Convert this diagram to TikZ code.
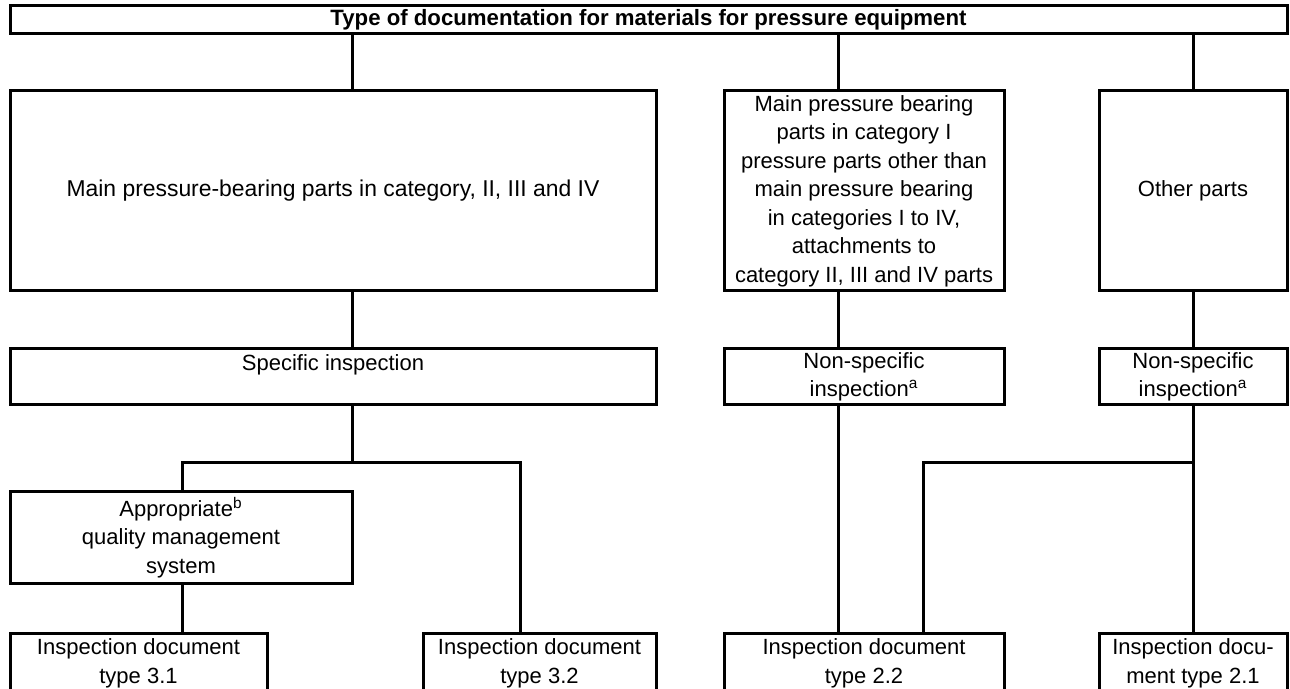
\documentclass[tikz,border=0pt]{standalone}
\usepackage{fontspec}
\setmainfont{Liberation Sans}
\begin{document}
\begin{tikzpicture}[x=0.5pt,y=-0.5pt,
	box/.style={draw,line width=1.5pt,outer sep=0pt,anchor=north west,align=center,inner xsep=2pt,inner ysep=3pt,font=\fontsize{11}{14.25}\selectfont},
	link/.style={line width=1.5pt}]
	\path [use as bounding box,clip] (0,0) rectangle (1290,689);
	\node [box,minimum width=638.5pt,minimum height=14pt,inner ysep=0pt,font=\fontsize{11.1}{14.25}\selectfont\bfseries] (title) at (10,6) {Type of documentation for materials for pressure equipment};
	\node [box,minimum width=323pt,minimum height=100pt,font=\fontsize{11.45}{14.25}\selectfont] (main) at (10,91) {Main pressure-bearing parts in category, II, III and IV};
	\node [box,minimum width=140pt,minimum height=100pt,inner ysep=1pt] (mid) at (724,91) {Main pressure bearing\\parts in category I\\pressure parts other than\\main pressure bearing\\in categories I to IV,\\attachments to\\category II, III and IV parts};
	\node [box,minimum width=94pt,minimum height=100pt] (other) at (1099,91) {Other parts};
	\node [box,minimum width=323pt,text height=8pt,text depth=14pt] (spec) at (10,349) {Specific inspection};
	\node [box,minimum width=140pt,minimum height=28pt,inner ysep=0.5pt] (nsmid) at (724,349) {Non-specific\\inspection\textsuperscript{a}};
	\node [box,minimum width=94pt,minimum height=28pt,inner ysep=0.5pt] (nsoth) at (1099,349) {Non-specific\\inspection\textsuperscript{a}};
	\node [box,minimum width=171pt,minimum height=42.5pt] (qms) at (10,491) {Appropriate\textsuperscript{b}\\quality management\\system};
	\node [box,minimum width=128.5pt] (d31) at (10,633) {Inspection document\\type 3.1};
	\node [box,minimum width=116.5pt] (d32) at (423,633) {Inspection document\\type 3.2};
	\node [box,minimum width=140pt] (d22) at (724,633) {Inspection document\\type 2.2};
	\node [box,minimum width=94pt] (d21) at (1099,633) {Inspection docu-\\ment type 2.1};
	% columns of the connectors
	\coordinate (xmain) at (352,0);
	\coordinate (xmid) at (838,0);
	\coordinate (xoth) at (1193,0);
	\coordinate (xqms) at (182,0);
	\coordinate (x32) at (520,0);
	\coordinate (x22) at (923,0);
	\coordinate (ysplit) at (0,462);
	\draw [link] (title.south -| xmain) -- (main.north -| xmain);
	\draw [link] (main.south -| xmain) -- (spec.north -| xmain);
	\draw [link] (spec.south -| xmain) -- (ysplit -| xmain);
	\draw [link] (qms.north -| xqms) |- (ysplit -| x32) -- (d32.north -| x32);
	\draw [link] (qms.south -| xqms) -- (d31.north -| xqms);
	\draw [link] (title.south -| xmid) -- (mid.north -| xmid);
	\draw [link] (mid.south -| xmid) -- (nsmid.north -| xmid);
	\draw [link] (nsmid.south -| xmid) -- (d22.north -| xmid);
	\draw [link] (title.south -| xoth) -- (other.north -| xoth);
	\draw [link] (other.south -| xoth) -- (nsoth.north -| xoth);
	\draw [link] (nsoth.south -| xoth) -- (d21.north -| xoth);
	\draw [link] (ysplit -| xoth) -| (d22.north -| x22);
\end{tikzpicture}
\end{document}
